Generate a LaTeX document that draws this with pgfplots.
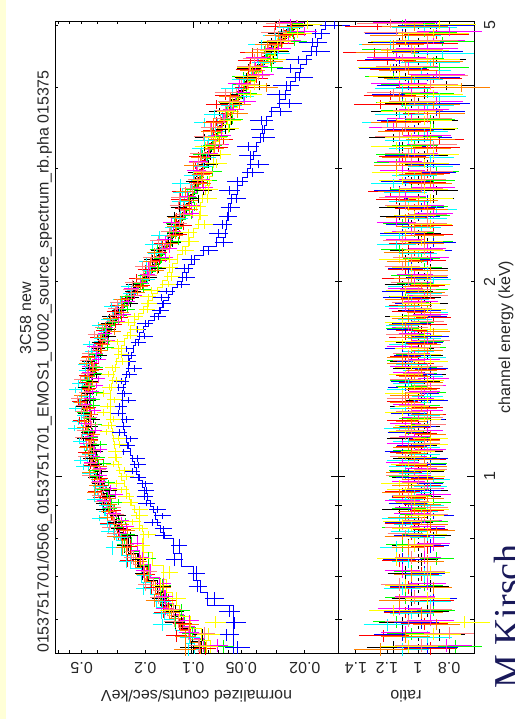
\documentclass[border=0pt]{standalone}
\usepackage{fontspec}
\setmainfont{Liberation Sans}
\newfontfamily\kirschfont{Liberation Serif}
\usepackage{pgfplots}
\usepackage{pgfplotstable}
\pgfplotsset{compat=1.18}
\definecolor{xorange}{RGB}{255,128,0}
\definecolor{xsalmon}{RGB}{255,128,128}
\definecolor{xgreen}{RGB}{0,255,0}
\definecolor{xcyan}{RGB}{0,255,255}
\definecolor{xmag}{RGB}{255,0,255}
\definecolor{xyel}{RGB}{255,255,0}
\definecolor{xblue}{RGB}{0,0,255}
\definecolor{xred}{RGB}{255,0,0}
\definecolor{navy}{RGB}{25,25,90}
\definecolor{paleyellow}{RGB}{255,255,215}
\definecolor{txt}{RGB}{40,40,40}
\newcommand{\lab}{\fontsize{16}{16}\selectfont}

% cross mark: horizontal half length \hx, vertical up \hyu, down \hyd (in pt)
\pgfdeclareplotmark{xcr}{%
  \pgfpathmoveto{\pgfpoint{-\hx pt}{0pt}}%
  \pgfpathlineto{\pgfpoint{\hx pt}{0pt}}%
  \pgfpathmoveto{\pgfpoint{0pt}{-\hyd pt}}%
  \pgfpathlineto{\pgfpoint{0pt}{\hyu pt}}%
  \pgfusepathqstroke}

% E = bin centre (keV), dE = half width, M0 = model (most obs), Mb = model (blue obs),
% My = model (yellow obs), dR = ratio error, R* = data/model ratio per observation
\pgfplotstableread{
E dE M0 Mb My dR Rk Rr Rg Rb Rc Rm Ry Ro Rs
0.5425 0.0125 0.0890 0.0560 0.0783 0.17 1.16 0.92 0.76 0.94 1.10 0.82 1.06 1.24 0.98
0.5675 0.0125 0.1016 0.0560 0.0894 0.16 0.86 1.22 1.04 1.10 0.94 1.08 0.90 1.08 0.80
0.5925 0.0125 0.1184 0.0560 0.1042 0.15 1.10 0.96 1.14 0.98 1.20 0.92 0.70 0.88 1.06
0.6175 0.0125 0.1380 0.0560 0.1214 0.14 0.94 1.08 0.90 1.06 1.04 1.12 1.16 0.98 0.92
0.6450 0.0150 0.1540 0.0817 0.1355 0.13 1.04 0.90 1.08 0.90 0.92 1.02 0.94 1.12 1.02
0.6750 0.0150 0.1685 0.0904 0.1483 0.12 0.92 1.06 0.96 1.04 1.10 0.94 1.08 0.90 1.12
0.7075 0.0175 0.1920 0.1000 0.1536 0.115 1.08 0.98 1.04 0.96 0.96 1.10 0.92 1.04 0.94
0.7425 0.0175 0.2250 0.1190 0.1800 0.11 0.98 1.12 0.88 1.10 1.06 0.96 1.14 0.94 1.04
0.7800 0.0200 0.2560 0.1336 0.2048 0.105 1.06 0.94 1.10 0.92 1.14 0.90 1.02 1.06 0.96
0.8095 0.0095 0.2763 0.1509 0.2041 0.115 0.90 1.04 0.98 1.02 0.94 1.08 0.94 1.10 1.08
0.8285 0.0095 0.2895 0.1602 0.2085 0.115 1.02 0.92 1.12 0.96 1.06 0.94 1.04 0.88 1.10
0.8478 0.0098 0.3025 0.1674 0.2179 0.115 1.02 1.10 0.92 1.08 1.04 0.96 1.10 0.92 0.98
0.8673 0.0098 0.3150 0.1735 0.2269 0.115 0.94 1.06 1.00 0.90 1.12 1.04 0.96 1.08 0.92
0.8873 0.0103 0.3270 0.1785 0.2355 0.11 1.12 0.94 1.06 0.94 0.98 1.04 0.92 1.02 0.92
0.9078 0.0103 0.3390 0.1852 0.2442 0.11 1.08 0.98 0.90 1.06 0.94 1.10 1.02 0.96 1.04
0.9288 0.0108 0.3510 0.1934 0.2528 0.11 0.96 1.06 1.02 1.04 1.08 0.90 1.04 0.94 1.06
0.9503 0.0108 0.3638 0.2012 0.2619 0.11 0.92 1.10 1.04 0.98 1.02 0.94 1.08 1.12 0.96
0.9723 0.0113 0.3773 0.2086 0.2717 0.105 1.04 0.96 0.94 0.96 0.92 1.06 1.12 1.06 1.00
0.9948 0.0113 0.3898 0.2171 0.2807 0.105 1.06 0.94 1.08 1.02 0.90 1.02 0.94 1.00 1.10
1.0178 0.0118 0.4013 0.2268 0.2889 0.105 0.94 1.08 1.08 1.06 1.02 0.98 0.94 1.10 0.92
1.0413 0.0118 0.4115 0.2351 0.2963 0.105 1.00 1.04 0.92 0.94 1.08 1.10 1.06 0.92 1.02
1.0655 0.0125 0.4205 0.2420 0.3028 0.10 1.06 0.92 0.98 0.92 1.10 1.04 1.02 0.96 1.08
1.0905 0.0125 0.4283 0.2487 0.3084 0.10 0.94 1.08 1.06 1.10 0.96 0.92 1.00 1.04 0.94
1.1160 0.0130 0.4348 0.2551 0.3131 0.10 0.98 1.04 0.92 1.02 0.96 1.10 0.92 1.06 0.96
1.1420 0.0130 0.4413 0.2616 0.3178 0.10 1.10 0.96 1.02 0.94 1.06 1.02 0.92 0.96 1.08
1.1685 0.0135 0.4478 0.2683 0.3224 0.10 1.02 0.98 1.06 1.08 0.92 0.94 1.08 0.92 1.04
1.1955 0.0135 0.4528 0.2736 0.3260 0.10 0.96 1.02 0.94 1.00 1.12 1.08 1.04 1.06 0.92
1.2233 0.0143 0.4563 0.2776 0.3286 0.10 0.92 1.10 1.02 0.94 1.04 1.00 0.96 1.04 0.94
1.2518 0.0143 0.4585 0.2791 0.3302 0.10 1.04 0.92 1.10 1.06 0.96 0.94 1.10 0.94 1.04
1.2808 0.0148 0.4595 0.2781 0.3309 0.10 1.08 0.94 0.96 1.04 1.08 1.06 1.04 0.98 1.02
1.3103 0.0148 0.4595 0.2771 0.3309 0.10 0.98 1.10 0.96 0.92 1.02 1.00 0.94 1.08 1.10
1.3405 0.0155 0.4585 0.2761 0.3302 0.10 1.00 1.06 0.92 0.98 0.94 0.96 1.10 1.08 0.98
1.3715 0.0155 0.4545 0.2727 0.3273 0.10 1.06 0.96 1.04 1.08 1.10 0.92 1.02 0.98 0.94
1.4033 0.0163 0.4475 0.2668 0.3223 0.10 0.96 1.02 1.08 1.06 1.06 0.90 0.94 0.94 1.08
1.4358 0.0163 0.4393 0.2611 0.3163 0.10 0.92 1.04 0.98 0.96 0.94 1.06 1.08 1.02 1.00
1.4690 0.0170 0.4298 0.2555 0.3094 0.10 1.06 0.92 0.98 0.92 1.00 1.08 1.04 0.98 0.94
1.5030 0.0170 0.4190 0.2500 0.3017 0.10 1.08 1.00 1.10 1.02 1.04 0.96 0.92 1.10 1.06
1.5380 0.0180 0.4070 0.2446 0.2930 0.10 0.94 1.08 1.04 1.04 0.92 1.02 0.96 1.10 1.06
1.5740 0.0180 0.3928 0.2377 0.2828 0.10 1.00 0.94 0.92 1.10 1.00 1.10 1.04 0.94 0.96
1.6108 0.0188 0.3763 0.2293 0.2710 0.105 1.04 0.98 0.94 0.96 1.08 0.94 1.10 0.96 0.90
1.6483 0.0188 0.3593 0.2189 0.2588 0.105 0.94 1.08 1.06 0.92 0.96 1.02 0.96 1.04 1.10
1.6865 0.0195 0.3418 0.2066 0.2462 0.105 0.98 1.04 1.10 1.08 0.94 1.06 0.92 0.90 1.04
1.7255 0.0195 0.3238 0.1924 0.2332 0.105 1.06 0.92 1.00 1.04 1.10 0.94 1.10 1.08 0.94
1.7655 0.0205 0.3053 0.1764 0.2198 0.11 1.10 0.90 0.98 0.94 1.02 0.92 1.06 1.06 0.96
1.8065 0.0205 0.2870 0.1633 0.2066 0.11 1.02 1.06 0.94 0.98 0.92 1.08 0.94 0.96 1.02
1.8485 0.0215 0.2690 0.1530 0.1937 0.11 0.92 1.08 1.04 1.02 1.10 0.98 0.98 1.02 1.06
1.8915 0.0215 0.2513 0.1434 0.1809 0.11 0.96 1.00 1.08 1.10 1.04 0.96 1.06 1.10 0.92
1.9355 0.0225 0.2338 0.1344 0.1683 0.115 1.02 0.96 0.92 1.10 0.96 1.08 1.08 0.94 1.00
1.9805 0.0225 0.2153 0.1255 0.1564 0.115 1.10 0.94 1.02 0.94 1.08 1.02 0.92 0.98 1.06
2.0350 0.0320 0.1958 0.1167 0.1451 0.115 0.96 1.12 1.06 0.94 0.90 1.02 0.94 1.04 0.92
2.0990 0.0320 0.1800 0.1078 0.1350 0.115 0.92 1.08 0.96 1.06 0.94 1.10 1.04 0.92 1.10
2.1653 0.0343 0.1680 0.0989 0.1260 0.12 1.08 0.94 0.98 1.04 1.06 0.92 1.12 1.08 1.04
2.2338 0.0343 0.1557 0.0868 0.1167 0.12 1.06 1.02 1.12 0.92 1.00 0.94 0.96 1.10 0.96
2.3043 0.0363 0.1430 0.0715 0.1073 0.125 0.94 1.06 0.90 0.90 1.14 1.08 0.98 0.96 1.10
2.3768 0.0363 0.1325 0.0632 0.0994 0.125 0.98 0.90 1.02 1.10 1.12 1.04 1.08 0.96 1.02
2.4515 0.0385 0.1242 0.0618 0.0931 0.125 1.04 0.90 1.10 1.06 0.98 1.14 0.92 1.02 0.94
2.5285 0.0385 0.1166 0.0607 0.0901 0.125 1.12 1.06 0.92 1.00 0.94 0.90 1.02 1.08 0.94
2.6080 0.0410 0.1097 0.0599 0.0903 0.13 1.12 1.02 0.94 0.98 0.88 0.96 1.06 0.94 1.08
2.6900 0.0410 0.1037 0.0573 0.0882 0.13 0.90 1.14 1.08 0.94 1.06 1.08 0.92 1.00 1.12
2.7748 0.0438 0.0986 0.0529 0.0838 0.14 0.88 1.18 1.04 1.12 1.08 0.90 0.96 1.12 0.98
2.8623 0.0438 0.0938 0.0491 0.0798 0.14 1.04 0.96 0.90 1.08 1.16 0.98 1.10 0.92 0.96
2.9525 0.0465 0.0895 0.0460 0.0761 0.145 1.06 0.94 0.88 0.92 1.02 1.10 1.14 0.98 0.92
3.0455 0.0465 0.0853 0.0437 0.0746 0.145 0.94 1.10 1.14 0.90 0.92 1.12 0.96 1.14 1.04
3.1415 0.0495 0.0814 0.0422 0.0752 0.15 0.96 1.10 1.12 1.04 0.92 1.02 0.90 1.08 1.06
3.2405 0.0495 0.0773 0.0403 0.0735 0.15 1.10 0.88 1.02 1.12 1.04 0.92 1.14 0.94 0.90
3.3425 0.0525 0.0731 0.0380 0.0695 0.155 1.16 0.86 1.00 0.96 1.06 0.94 1.04 0.92 1.12
3.4475 0.0525 0.0688 0.0361 0.0654 0.155 0.92 1.06 0.90 1.02 0.96 1.16 0.92 1.10 1.08
3.5560 0.0560 0.0645 0.0346 0.0613 0.16 0.90 1.08 0.92 1.08 1.20 1.04 0.96 1.14 0.94
3.6680 0.0560 0.0601 0.0322 0.0571 0.16 1.14 0.94 1.08 0.88 1.12 0.96 1.06 0.86 1.00
3.7835 0.0595 0.0558 0.0289 0.0530 0.17 1.04 1.24 1.10 0.86 0.94 0.88 1.08 0.90 1.02
3.9025 0.0595 0.0515 0.0264 0.0489 0.17 0.96 1.18 0.94 1.10 0.86 1.04 0.90 1.12 1.16
4.0255 0.0635 0.0473 0.0247 0.0449 0.18 0.82 0.96 1.06 1.06 1.10 1.12 0.92 0.72 0.92
4.1525 0.0635 0.0433 0.0230 0.0411 0.18 1.08 0.90 1.16 0.94 1.02 0.88 1.12 1.04 0.86
4.2835 0.0675 0.0394 0.0212 0.0373 0.19 1.14 1.12 0.86 1.16 0.98 1.06 1.18 1.06 1.08
4.4185 0.0675 0.0357 0.0195 0.0338 0.19 0.88 1.20 1.02 1.12 0.92 1.14 0.94 0.90 1.10
4.5578 0.0718 0.0322 0.0181 0.0306 0.20 0.94 1.28 1.16 0.94 0.84 0.94 1.02 1.20 1.04
4.7013 0.0718 0.0290 0.0168 0.0276 0.20 1.12 0.94 0.84 1.06 1.18 0.90 1.08 1.16 0.94
4.8493 0.0763 0.0261 0.0157 0.0248 0.21 1.08 0.88 0.96 1.10 1.06 0.80 0.90 1.10 1.14
5.0018 0.0763 0.0234 0.0148 0.0224 0.21 0.92 1.26 1.10 0.88 0.96 1.08 0.86 1.02 1.18
5.6000 0.5218 0.0234 0.0148 0.0224 0.21 1 1 1 1 1 1 1 1 1
}\data

% counts panel: #1 colour, #2 ratio column, #3 model column, #4 norm, #5 energy shift, #6 error scale
\newcommand{\cseries}[6]{%
\addplot[#1, const plot mark right, mark=none, line width=0.8pt]
  table[x expr={#4*\thisrow{#3}}, y expr={#5*(\thisrow{E}-\thisrow{dE})}]{\data};
\addplot[#1, only marks, mark=xcr, mark options={line width=0.9pt},
  visualization depends on={159.6*log10(1+#6*\thisrow{dR})\as\hx},
  visualization depends on={645*log10(1+\thisrow{dE}/\thisrow{E})\as\hyu},
  visualization depends on={-645*log10(1-\thisrow{dE}/\thisrow{E})\as\hyd}]
  table[x expr={#4*\thisrow{#3}*\thisrow{#2}}, y expr={#5*\thisrow{E}}]{\data};
}
% ratio panel: #1 colour, #2 ratio column, #3 energy shift, #4 error scale
\newcommand{\rseries}[4]{%
\addplot[#1, only marks, mark=xcr, mark options={line width=0.9pt},
  visualization depends on={155.4*#4*\thisrow{dR}\as\hx},
  visualization depends on={645*log10(1+\thisrow{dE}/\thisrow{E})\as\hyu},
  visualization depends on={-645*log10(1-\thisrow{dE}/\thisrow{E})\as\hyd}]
  table[x=#2, y expr={#3*\thisrow{E}}]{\data};
}

\begin{document}
\begin{tikzpicture}[x=1pt,y=1pt]
\useasboundingbox (0,0) rectangle (514,719);
\fill[white] (0,0) rectangle (514,719);
\fill[paleyellow] (0,0) rectangle (6,719);

\begin{axis}[
  at={(55pt,66pt)}, anchor=south west, scale only axis,
  width=283pt, height=632pt,
  xmode=log, ymode=log, x dir=reverse,
  xmin=0.0124, xmax=0.735, ymin=0.5317, ymax=5.074,
  axis line style={line width=0.9pt, black},
  tick style={line width=0.8pt, black},
  major tick length=7pt, minor tick length=3.5pt,
  xtick={0.1}, xticklabels={0.1},
  extra x ticks={0.02,0.05,0.2,0.5}, extra x tick labels={0.02,0.05,0.2,0.5},
  extra x tick style={major tick length=3.5pt},
  minor xtick={0.03,0.04,0.06,0.07,0.08,0.09,0.3,0.4,0.6,0.7},
  xticklabel style={font=\lab, text=txt, yshift=-9pt, rotate=180, anchor=base},
  ytick={1}, yticklabels={},
  extra y ticks={2,5}, extra y tick labels={},
  extra y tick style={major tick length=3.5pt},
  minor ytick={0.6,0.7,0.8,0.9,3,4},
]
\cseries{black}{Rk}{M0}{1.00}{1.000}{1.0}
\cseries{xred}{Rr}{M0}{1.03}{0.996}{1.0}
\cseries{xgreen}{Rg}{M0}{0.96}{1.004}{1.0}
\cseries{xblue}{Rb}{Mb}{1.00}{1.000}{1.15}
\cseries{xcyan}{Rc}{M0}{1.10}{0.992}{1.0}
\cseries{xmag}{Rm}{M0}{0.97}{1.008}{1.0}
\cseries{xyel}{Ry}{My}{1.00}{1.002}{1.1}
\cseries{xorange}{Ro}{M0}{1.02}{0.994}{1.0}
\cseries{xsalmon}{Rs}{M0}{1.05}{1.006}{1.0}
\end{axis}

\begin{axis}[
  at={(338pt,66pt)}, anchor=south west, scale only axis,
  width=136pt, height=632pt,
  ymode=log, x dir=reverse,
  xmin=0.64, xmax=1.515, ymin=0.5317, ymax=5.074,
  axis line style={line width=0.9pt, black},
  tick style={line width=0.8pt, black},
  major tick length=7pt, minor tick length=4pt,
  xtick=\empty,
  extra x ticks={0.8,1,1.2,1.4}, extra x tick labels={0.8,1,1.2,1.4},
  extra x tick style={major tick length=4pt},
  minor xtick={0.7,0.9,1.1,1.3,1.5},
  xticklabel style={font=\lab, text=txt, yshift=-9pt, rotate=180, anchor=base},
  ytick={1}, yticklabels={1},
  extra y ticks={2,5}, extra y tick labels={2,5},
  extra y tick style={major tick length=3.5pt},
  minor ytick={0.6,0.7,0.8,0.9,3,4},
  yticklabel pos=right,
  yticklabel style={font=\lab, text=txt, xshift=21pt, rotate=90, anchor=base},
]
\rseries{black}{Rk}{1.000}{1.0}
\rseries{xred}{Rr}{0.996}{1.0}
\rseries{xgreen}{Rg}{1.004}{1.0}
\rseries{xblue}{Rb}{1.000}{1.15}
\rseries{xcyan}{Rc}{0.992}{1.0}
\rseries{xmag}{Rm}{1.008}{1.0}
\rseries{xyel}{Ry}{1.002}{1.1}
\rseries{xorange}{Ro}{0.994}{1.0}
\rseries{xsalmon}{Rs}{1.006}{1.0}
\addplot[black, dashed, line width=0.9pt] coordinates {(1,0.5317) (1,5.074)};
\end{axis}

\node[rotate=180, anchor=base, inner sep=0, font=\lab, text=txt] at (196.5,28) {normalized counts/sec/keV};
\node[rotate=180, anchor=base, inner sep=0, font=\lab, text=txt] at (406,28) {ratio};
\node[rotate=90, anchor=base, inner sep=0, font=\lab, text=txt] at (510,382) {channel energy (keV)};
\node[rotate=90, anchor=base, inner sep=0, font=\lab, text=txt] at (31,401) {3C58 new};
\node[rotate=90, anchor=base west, inner sep=0, font=\lab, text=txt] at (48.5,66)
  {0153751701/0506\_0153751701\_EMOS1\_U002\_source\_spectrum\_rb.pha 015375};
\node[rotate=90, anchor=base west, inner sep=0, font=\kirschfont\fontsize{38}{38}\selectfont, text=navy] at (520.5,30) {M Kirsch};
\end{tikzpicture}
\end{document}
